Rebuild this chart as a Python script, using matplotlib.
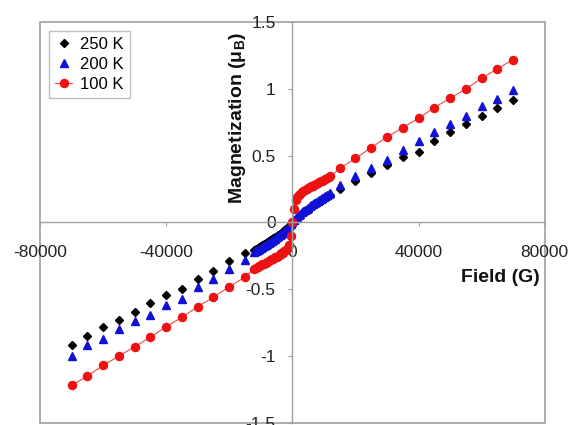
import matplotlib
matplotlib.use("Agg")
import matplotlib.pyplot as plt
from matplotlib.patches import Rectangle

plt.rcParams['font.family'] = ['Liberation Sans', 'DejaVu Sans']

# field values (G): sparse high-field points and the dense low-field sweep
field_neg = [-70000, -65000, -60000, -55000, -50000, -45000, -40000, -35000, -30000, -25000, -20000, -15000]
field_mid = [-12000, -11500, -11000, -10500, -10000, -9500, -9000, -8500, -8000, -7500, -7000, -6500,
             -6000, -5500, -5000, -4500, -4000, -3500, -3000, -2500, -2000, -1500, -1000, -500,
             0, 500, 1000, 1500, 2000, 2500, 3000, 3500, 4000, 4500, 5000, 5500,
             6000, 6500, 7000, 7500, 8000, 8500, 9000, 9500, 10000, 10500, 11000, 11500, 12000]
field_pos = [15000, 20000, 25000, 30000, 35000, 40000, 45000, 50000, 55000, 60000, 65000, 70000]

# magnetization (muB)
m250_neg = [-0.92, -0.85, -0.78, -0.73, -0.67, -0.60, -0.54, -0.50, -0.42, -0.36, -0.29, -0.23]
m250_mid = [-0.205, -0.198, -0.19, -0.183, -0.175, -0.168, -0.16, -0.153, -0.147, -0.14, -0.132, -0.125,
            -0.117, -0.108, -0.10, -0.093, -0.085, -0.077, -0.068, -0.058, -0.048, -0.037, -0.025, -0.012,
            0.0, 0.012, 0.025, 0.037, 0.048, 0.058, 0.068, 0.077, 0.085, 0.093, 0.10, 0.108,
            0.117, 0.125, 0.132, 0.14, 0.147, 0.153, 0.16, 0.168, 0.175, 0.183, 0.19, 0.198, 0.205]
m250_pos = [0.25, 0.31, 0.37, 0.43, 0.49, 0.53, 0.61, 0.68, 0.74, 0.80, 0.86, 0.92]

m200_neg = [-1.00, -0.92, -0.87, -0.80, -0.74, -0.69, -0.62, -0.575, -0.48, -0.42, -0.35, -0.28]
m200_mid = [-0.22, -0.213, -0.205, -0.198, -0.19, -0.183, -0.175, -0.168, -0.16, -0.153, -0.145, -0.138,
            -0.13, -0.12, -0.11, -0.103, -0.095, -0.085, -0.075, -0.065, -0.055, -0.043, -0.03, -0.015,
            0.0, 0.015, 0.03, 0.043, 0.055, 0.065, 0.075, 0.085, 0.095, 0.103, 0.11, 0.12,
            0.13, 0.138, 0.145, 0.153, 0.16, 0.168, 0.175, 0.183, 0.19, 0.198, 0.205, 0.213, 0.22]
m200_pos = [0.28, 0.35, 0.41, 0.47, 0.54, 0.61, 0.68, 0.74, 0.80, 0.87, 0.925, 0.99]

m100_neg = [-1.22, -1.15, -1.07, -1.00, -0.93, -0.86, -0.78, -0.71, -0.63, -0.56, -0.48, -0.41]
m100_mid = [-0.345, -0.338, -0.332, -0.326, -0.32, -0.313, -0.307, -0.301, -0.295, -0.288, -0.282, -0.276,
            -0.27, -0.262, -0.255, -0.248, -0.24, -0.232, -0.225, -0.215, -0.205, -0.19, -0.165, -0.10,
            0.0, 0.10, 0.165, 0.19, 0.205, 0.215, 0.225, 0.232, 0.24, 0.248, 0.255, 0.262,
            0.27, 0.276, 0.282, 0.288, 0.295, 0.301, 0.307, 0.313, 0.32, 0.326, 0.332, 0.338, 0.345]
m100_pos = [0.405, 0.48, 0.56, 0.64, 0.71, 0.78, 0.86, 0.93, 1.00, 1.08, 1.15, 1.22]

xticks = [-80000, -40000, 0, 40000, 80000]
yticks = [-1.5, -1, -0.5, 0, 0.5, 1, 1.5]
ytick_labels = ["-1.5", "-1", "-0.5", "0", "0.5", "1", "1.5"]

field = field_neg + field_mid + field_pos
m250 = m250_neg + m250_mid + m250_pos
m200 = m200_neg + m200_mid + m200_pos
m100 = m100_neg + m100_mid + m100_pos

fig = plt.figure(figsize=(5.71, 4.25), dpi=100)
ax = fig.add_axes([0.070, 0.005, 0.884, 0.943])

ax.plot(field, m250, linestyle='none', marker='D', markersize=4.3, color='black', label='250 K')
ax.plot(field, m200, linestyle='none', marker='^', markersize=5.8, color='#1010d8', label='200 K')
ax.plot(field, m100, linestyle='-', linewidth=0.8, color='#f04848', marker='o', markersize=5.8,
        markerfacecolor='#ee1111', markeredgecolor='#ee1111', label='100 K')

ax.set_xlim(-80000, 80000)
ax.set_ylim(-1.5, 1.5)

grey = '#a0a0a0'
ax.spines['left'].set_position(('data', 0))
ax.spines['bottom'].set_position(('data', 0))
ax.spines['right'].set_visible(False)
ax.spines['top'].set_visible(False)
for s in ('left', 'bottom'):
    ax.spines[s].set_color(grey)
    ax.spines[s].set_linewidth(1.0)
ax.add_patch(Rectangle((0, 0), 1, 1, transform=ax.transAxes, fill=False,
                       edgecolor=grey, linewidth=1.2, clip_on=False, zorder=0))

ax.set_xticks(xticks)
ax.set_xticklabels([str(v) for v in xticks])
ax.set_yticks(yticks)
ax.set_yticklabels(ytick_labels)
ax.tick_params(axis='x', direction='out', length=3, color=grey, pad=13, labelsize=12.5, labelcolor='#222222')
ax.tick_params(axis='y', direction='out', length=3, color=grey, pad=9, labelsize=12.5, labelcolor='#222222')

ax.text(-17300, 0.78, 'Magnetization (μ$_\\mathregular{B}$)', rotation=90, ha='center', va='center',
        fontsize=14, fontweight='bold', color='#111111')
ax.text(66000, -0.41, 'Field (G)', ha='center', va='center', fontsize=14, fontweight='bold', color='#111111')

leg = ax.legend(loc='upper left', bbox_to_anchor=(0.012, 0.985), fontsize=12, frameon=True, fancybox=False,
                handlelength=1.0, handletextpad=0.5, borderpad=0.35, labelspacing=0.3, borderaxespad=0.2)
leg.get_frame().set_edgecolor('#b0b0b0')
leg.get_frame().set_linewidth(1.0)

fig.savefig('out.png', dpi=100)
